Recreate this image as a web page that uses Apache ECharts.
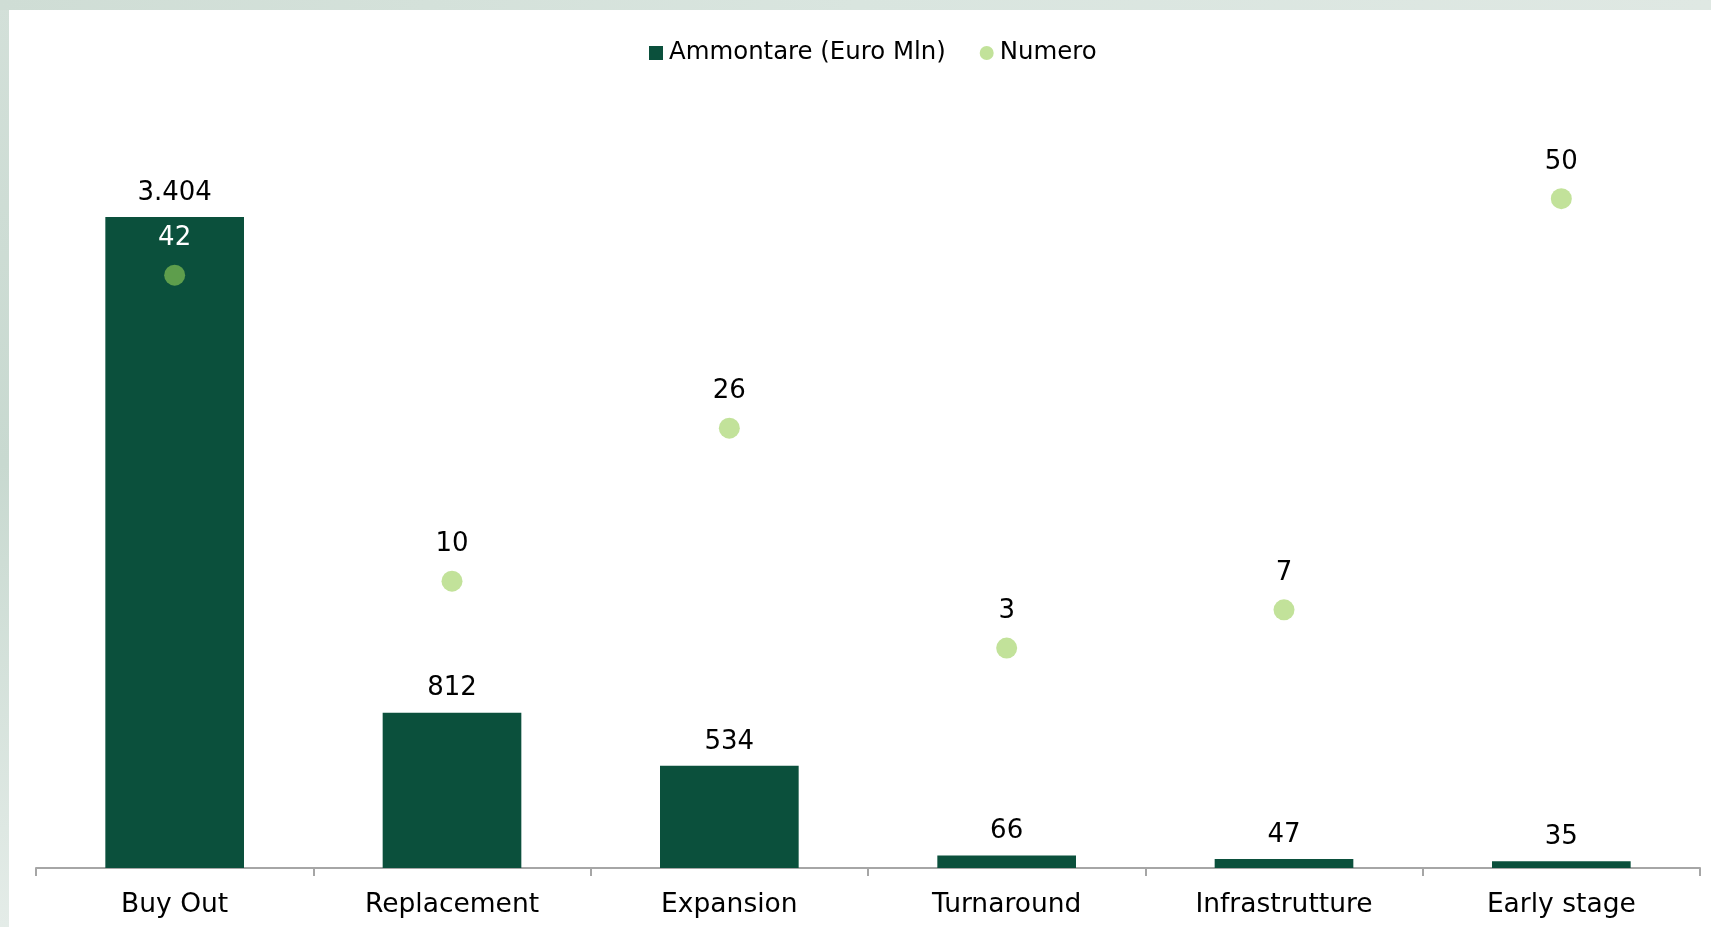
<!DOCTYPE html>
<html>
<head>
<meta charset="utf-8">
<script src="https://cdn.jsdelivr.net/npm/echarts@6/dist/echarts.min.js"></script>
<style>
  html, body { margin: 0; padding: 0; width: 1711px; height: 927px; overflow: hidden; }
  body { background: linear-gradient(180deg, #d3e0d9 0%, #c8d9d0 50%, #e4ece8 100%); position: relative; }
  #top { position: absolute; left: 0; top: 0; width: 1711px; height: 10px; background: linear-gradient(90deg, #cfddd5 0%, #d9e5df 50%, #dfe8e3 100%); }
  #chart { position: absolute; left: 9px; top: 10px; width: 1702px; height: 917px; background: #ffffff; }
</style>
</head>
<body>
<div id="top"></div>
<div id="chart"></div>
<script>
const categories = ['Buy Out', 'Replacement', 'Expansion', 'Turnaround', 'Infrastrutture', 'Early stage'];
const ammontare = [3404, 812, 534, 66, 47, 35];
const numero = [42, 10, 26, 3, 7, 50];

const barColor = '#0b503c';
const dotColor = '#c2e29a';
const dotOnBarColor = '#5e9e4c';

function fmtIt(v) {
  return String(v).replace(/\B(?=(\d{3})+(?!\d))/g, '.');
}

const chart = echarts.init(document.getElementById('chart'));
const FONT = 'DejaVu Sans, Verdana, sans-serif';

chart.setOption({
  animation: false,
  textStyle: { fontFamily: FONT },
  legend: {
    left: 635,
    top: 26,
    itemWidth: 14,
    itemHeight: 14,
    itemGap: 34,
    textStyle: { fontSize: 24.4, color: '#000', fontFamily: FONT, padding: [0, 0, 0, 1] },
    data: [
      { name: 'Ammontare (Euro Mln)', icon: 'rect' },
      { name: 'Numero', icon: 'circle' }
    ]
  },
  grid: { left: 27, right: 11, top: 93, bottom: 59, containLabel: false },
  xAxis: {
    type: 'category',
    data: categories,
    boundaryGap: true,
    axisLine: { show: true, lineStyle: { color: '#a6a6a6', width: 2 } },
    axisTick: { show: true, length: 8, lineStyle: { color: '#a6a6a6', width: 2 } },
    axisLabel: { fontSize: 26.5, color: '#000', margin: 24, fontFamily: FONT }
  },
  yAxis: [
    { type: 'value', min: 0, max: 4000, show: false, splitLine: { show: false } },
    { type: 'value', min: -20, max: 60, show: false, splitLine: { show: false } }
  ],
  series: [
    {
      name: 'Ammontare (Euro Mln)',
      type: 'bar',
      yAxisIndex: 0,
      barWidth: '50%',
      data: ammontare,
      itemStyle: { color: barColor },
      label: {
        show: true,
        position: 'top',
        distance: 11,
        fontSize: 26,
        color: '#000',
        fontFamily: FONT,
        formatter: p => fmtIt(p.value)
      },
      z: 1
    },
    {
      name: 'Numero',
      type: 'scatter',
      yAxisIndex: 1,
      symbol: 'circle',
      symbolSize: 21,
      itemStyle: { color: dotColor, opacity: 1 },
      data: numero.map((v, i) => {
        const onBar = ammontare[i] / 4000 > (v + 20) / 80;
        return onBar
          ? { value: v, itemStyle: { color: dotOnBarColor, opacity: 1 }, label: { color: '#ffffff' } }
          : { value: v };
      }),
      label: {
        show: true,
        position: 'top',
        distance: 13,
        fontSize: 26,
        color: '#000',
        opacity: 1,
        fontFamily: FONT
      },
      z: 3
    }
  ]
});
</script>
</body>
</html>
